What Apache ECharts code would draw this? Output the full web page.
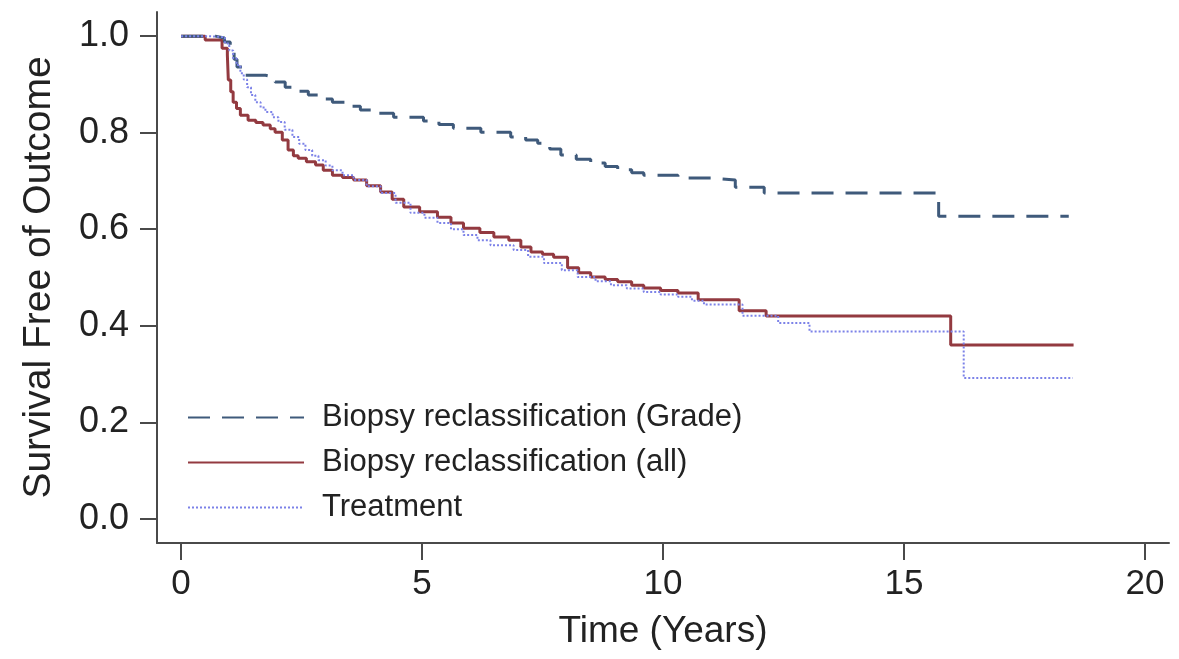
<!DOCTYPE html>
<html>
<head>
<meta charset="utf-8">
<script src="https://cdn.jsdelivr.net/npm/echarts@6/dist/echarts.min.js"></script>
<style>
  html, body { margin: 0; padding: 0; background: #fff; }
  #main { width: 1179px; height: 659px; }
</style>
</head>
<body>
<div id="main"></div>
<script>
// values (years, survival)
var seriesNames = ['Biopsy reclassification (Grade)', 'Biopsy reclassification (all)', 'Treatment'];

var gradeTime = [0, 0.71, 0.9, 1.02, 1.1, 1.16, 1.33, 1.75, 1.95, 2.16, 2.4, 2.64, 2.9, 3.14, 3.45, 3.72, 4.05, 4.41, 5.03, 5.35, 5.65, 6.22, 6.84, 7.15, 7.4, 7.65, 7.88, 8.2, 8.5, 8.8, 9.06, 9.35, 9.6, 10.31, 11.0, 11.5, 12.1, 15.72, 18.42];
var gradeSurv = [1.0, 0.996, 0.988, 0.971, 0.952, 0.936, 0.919, 0.915, 0.905, 0.894, 0.886, 0.878, 0.870, 0.863, 0.855, 0.847, 0.840, 0.832, 0.824, 0.817, 0.809, 0.801, 0.791, 0.785, 0.778, 0.766, 0.754, 0.745, 0.737, 0.730, 0.723, 0.717, 0.712, 0.706, 0.702, 0.687, 0.675, 0.627, 0.627];

var allTime = [0, 0.5, 0.85, 0.96, 0.98, 1.03, 1.08, 1.15, 1.23, 1.39, 1.55, 1.7, 1.85, 1.95, 2.1, 2.22, 2.33, 2.43, 2.6, 2.79, 2.95, 3.14, 3.35, 3.58, 3.85, 4.14, 4.38, 4.62, 4.95, 5.32, 5.6, 5.86, 6.2, 6.49, 6.8, 7.05, 7.26, 7.5, 7.73, 8.02, 8.25, 8.5, 8.8, 9.06, 9.35, 9.6, 9.95, 10.31, 10.73, 11.58, 12.14, 15.97, 18.52];
var allSurv = [1.0, 0.992, 0.975, 0.961, 0.909, 0.885, 0.863, 0.850, 0.836, 0.826, 0.821, 0.816, 0.808, 0.801, 0.785, 0.764, 0.752, 0.747, 0.740, 0.733, 0.722, 0.712, 0.707, 0.702, 0.690, 0.677, 0.662, 0.646, 0.636, 0.625, 0.613, 0.602, 0.593, 0.584, 0.577, 0.563, 0.553, 0.548, 0.542, 0.520, 0.510, 0.501, 0.496, 0.491, 0.484, 0.478, 0.473, 0.468, 0.454, 0.431, 0.420, 0.360, 0.360];

var treatTime = [0, 0.56, 0.91, 1.0, 1.08, 1.15, 1.23, 1.3, 1.37, 1.45, 1.54, 1.65, 1.75, 1.9, 2.02, 2.15, 2.31, 2.45, 2.58, 2.72, 2.85, 3.0, 3.14, 3.35, 3.58, 3.85, 4.14, 4.45, 4.76, 5.05, 5.32, 5.6, 5.86, 6.15, 6.42, 6.9, 7.2, 7.53, 7.9, 8.23, 8.6, 8.92, 9.25, 9.6, 9.95, 10.31, 10.6, 10.85, 11.65, 12.39, 13.04, 16.24, 18.5];
var treatSurv = [1.0, 0.998, 0.985, 0.970, 0.954, 0.940, 0.923, 0.910, 0.894, 0.878, 0.863, 0.852, 0.843, 0.832, 0.822, 0.806, 0.791, 0.777, 0.764, 0.752, 0.743, 0.732, 0.722, 0.712, 0.702, 0.689, 0.675, 0.655, 0.634, 0.624, 0.613, 0.600, 0.588, 0.577, 0.567, 0.557, 0.543, 0.530, 0.515, 0.501, 0.492, 0.484, 0.477, 0.470, 0.465, 0.460, 0.452, 0.444, 0.421, 0.406, 0.388, 0.292, 0.292];

var xTicks = [0, 5, 10, 15, 20];
var yTicks = [0, 0.2, 0.4, 0.6, 0.8, 1.0];

function pairs(t, s) {
  return t.map(function (v, i) { return [v, s[i]]; });
}

var font = '"Liberation Sans", Arial, sans-serif';
var axisColor = '#4a4a4a';

var chart = echarts.init(document.getElementById('main'), null, { renderer: 'canvas' });
chart.setOption({
  animation: false,
  backgroundColor: '#fff',
  textStyle: { fontFamily: font },
  grid: { left: 157, right: 10, top: 12, bottom: 116, containLabel: false },
  legend: {
    orient: 'vertical',
    left: 182,
    top: 397,
    itemWidth: 116,
    itemHeight: 30,
    itemGap: 14,
    data: seriesNames,
    itemStyle: { opacity: 0, borderWidth: 0 },
    textStyle: { fontFamily: font, fontSize: 31, color: '#222', padding: [0, 0, 0, 13], lineHeight: 30 }
  },
  xAxis: {
    type: 'value',
    min: -0.5,
    max: 20.5,
    name: 'Time (Years)',
    nameLocation: 'middle',
    nameGap: 70,
    nameTextStyle: { fontFamily: font, fontSize: 37, color: '#222' },
    splitLine: { show: false },
    axisLine: { onZero: false, lineStyle: { color: axisColor, width: 2 } },
    axisTick: { customValues: xTicks, length: 17, lineStyle: { color: axisColor, width: 2 } },
    axisLabel: { customValues: xTicks, margin: 24, fontSize: 35, color: '#222', fontFamily: font }
  },
  yAxis: {
    type: 'value',
    min: -0.05,
    max: 1.05,
    name: 'Survival Free of Outcome',
    nameLocation: 'middle',
    nameGap: 98,
    nameTextStyle: { fontFamily: font, fontSize: 39, color: '#222' },
    splitLine: { show: false },
    axisLine: { show: true, onZero: false, lineStyle: { color: axisColor, width: 2 } },
    axisTick: { show: true, customValues: yTicks, length: 17, lineStyle: { color: axisColor, width: 2 } },
    axisLabel: {
      customValues: yTicks, margin: 28, fontSize: 36, color: '#222', fontFamily: font,
      formatter: function (v) { return v.toFixed(1); }
    }
  },
  series: [
    {
      name: seriesNames[0], type: 'line', step: 'end', symbol: 'none',
      data: pairs(gradeTime, gradeSurv),
      lineStyle: { color: '#3f5a7b', width: 3, type: [22, 12] },
      itemStyle: { color: '#3f5a7b' },
      z: 3
    },
    {
      name: seriesNames[1], type: 'line', step: 'end', symbol: 'none',
      data: pairs(allTime, allSurv),
      lineStyle: { color: '#933a40', width: 3 },
      itemStyle: { color: '#933a40' },
      z: 2
    },
    {
      name: seriesNames[2], type: 'line', step: 'end', symbol: 'none',
      data: pairs(treatTime, treatSurv),
      lineStyle: { color: '#7c82e8', width: 2, type: [2, 2] },
      itemStyle: { color: '#7c82e8' },
      z: 4
    }
  ]
});
</script>
</body>
</html>
